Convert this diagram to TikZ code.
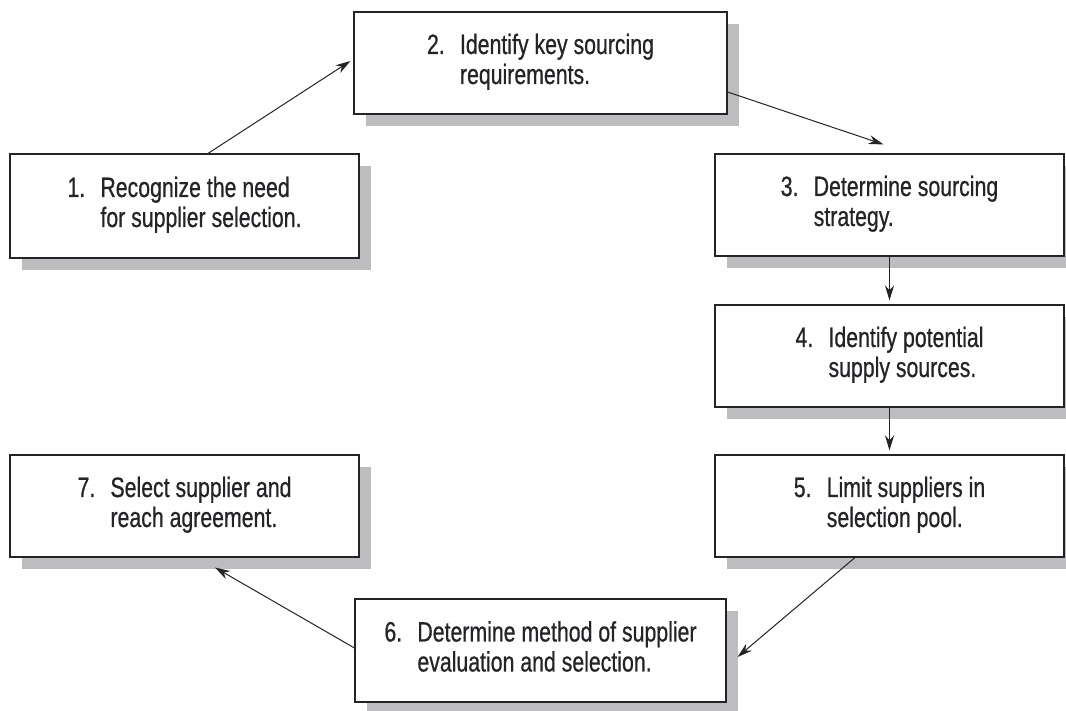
\documentclass[tikz,border=0pt]{standalone}
\usepackage{fontspec}
\setmainfont{Liberation Sans}[FakeStretch=0.76,FakeBold=0.6]
\usetikzlibrary{arrows.meta,shadows,calc}
\definecolor{shadowgray}{RGB}{189,189,191}
\definecolor{ink}{RGB}{35,35,40}
\begin{document}
\begin{tikzpicture}[x=1pt,y=1pt,
  stepbox/.style={draw=ink, line width=1.1pt, fill=white, minimum width=349pt, minimum height=102pt,
    inner sep=0pt, text=ink, font=\fontsize{28}{30}\selectfont,
    drop shadow={shadow xshift=12pt, shadow yshift=-12pt, fill=shadowgray, opacity=1}},
  conn/.style={draw=ink, line width=1pt, -{Stealth[length=15pt,width=9pt]}}]
\useasboundingbox (0,0) rectangle (1066,711);
\newcommand{\steptext}[3]{\begin{tabular}{@{}p{33pt}@{}l@{}}#1 & #2\\ & #3\end{tabular}}
\node[stepbox, minimum height=104pt] (b1) at (184.5,505) {\steptext{1.}{Recognize the need}{for supplier selection.}};
\node[stepbox, minimum width=373pt] (b2) at (540.5,648) {\steptext{2.}{Identify key sourcing}{requirements.}};
\node[stepbox] (b3) at (889.5,506) {\steptext{3.}{Determine sourcing}{strategy.}};
\node[stepbox] (b4) at (889.5,355) {\steptext{4.}{Identify potential}{supply sources.}};
\node[stepbox] (b5) at (889.5,205) {\steptext{5.}{Limit suppliers in}{selection pool.}};
\node[stepbox, minimum width=371pt, minimum height=103pt] (b6) at (540.5,60.5) {\steptext{6.}{Determine method of supplier}{evaluation and selection.}};
\node[stepbox] (b7) at (184.5,205) {\steptext{7.}{Select supplier and}{reach agreement.}};
\draw[conn] ($(b1.north)+(23.5,0)$) -- ($(b2.west)+(-3,2)$);
\draw[conn] ($(b2.east)+(0,-29)$) -- ($(b3.north)+(-6,9)$);
\draw[conn, shorten >=4pt] (b3.south) -- (b4.north);
\draw[conn, shorten >=4pt] (b4.south) -- (b5.north);
\draw[conn] ($(b5.south)+(-34.5,0)$) -- ($(b6.east)+(11,-6.5)$);
\draw[conn] ($(b6.west)+(0,2.5)$) -- ($(b7.south)+(30.5,-10)$);
\end{tikzpicture}
\end{document}
